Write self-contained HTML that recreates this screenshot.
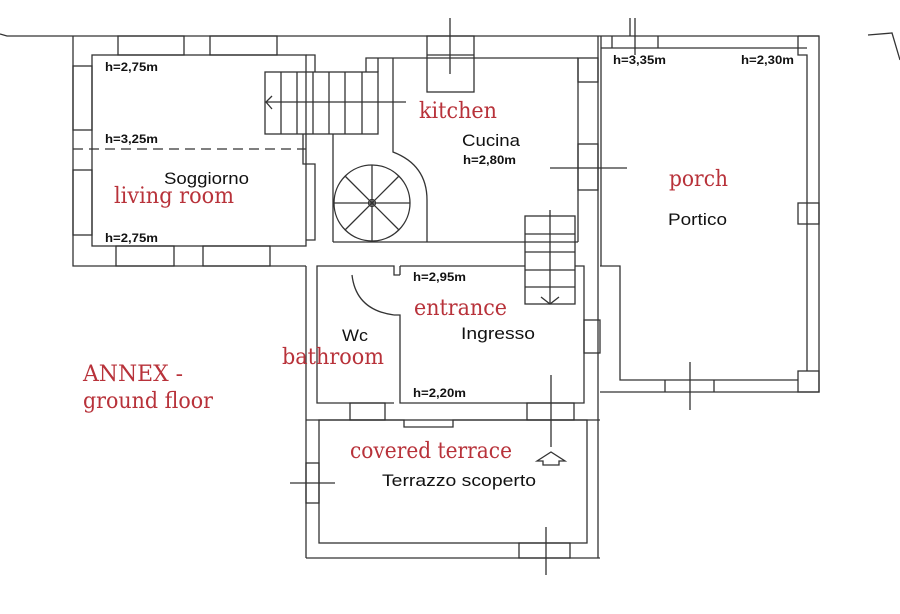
<!DOCTYPE html>
<html><head><meta charset="utf-8"><style>
html,body{margin:0;padding:0;background:#fff;width:900px;height:614px;overflow:hidden}
svg{display:block}
.b{font-family:"Liberation Sans",sans-serif;fill:#111}
.r{font-family:"DejaVu Serif","Liberation Serif",serif;fill:#b8323a}
</style></head><body>
<svg width="900" height="614" viewBox="0 0 900 614" xmlns="http://www.w3.org/2000/svg">
<g stroke="#333" stroke-width="1.3" fill="none">
<polyline points="0,34 7,36 819,36"/>
<polyline points="868,35 892,33 900,60"/>
<line x1="630" y1="18" x2="630" y2="36" />
<polyline points="73,36 73,266 306,266"/>
<rect x="92" y="55" width="214" height="191"/>
<rect x="118" y="36" width="66" height="19"/><rect x="210" y="36" width="67" height="19"/>
<rect x="73" y="66" width="19" height="64"/><rect x="73" y="170" width="19" height="65"/>
<rect x="116" y="246" width="58" height="20"/><rect x="203" y="246" width="67" height="20"/>
<line x1="73" y1="149" x2="306" y2="149" stroke-dasharray="10,6"/>
<polyline points="306,55 315,55 315,72"/>
<polyline points="303,134 303,164 315,164 315,240 306,240"/>
<rect x="265" y="72" width="113" height="62"/>
<line x1="281" y1="72" x2="281" y2="134"/><line x1="297" y1="72" x2="297" y2="134"/><line x1="313" y1="72" x2="313" y2="134"/><line x1="329" y1="72" x2="329" y2="134"/><line x1="345" y1="72" x2="345" y2="134"/><line x1="362" y1="72" x2="362" y2="134"/>
<line x1="265" y1="102" x2="406" y2="102"/>
<polyline points="272,96 266,102 272,109"/>
<polyline points="366,72 366,58 578,58"/>
<line x1="378" y1="58" x2="378" y2="72"/>
<line x1="333" y1="134" x2="333" y2="242"/>
<line x1="333" y1="242" x2="578" y2="242"/>
<path d="M393,58 L393,152 Q427,165 427,200 L427,242"/>
<circle cx="372" cy="203" r="38"/>
<circle cx="372" cy="203" r="3.5"/>
<line x1="334" y1="203" x2="410" y2="203"/><line x1="372" y1="165" x2="372" y2="241"/>
<line x1="345" y1="176" x2="399" y2="230"/><line x1="399" y1="176" x2="345" y2="230"/>
<rect x="427" y="36" width="47" height="56"/><line x1="427" y1="55" x2="474" y2="55"/>
<line x1="450" y1="18" x2="450" y2="74"/>
<line x1="578" y1="58" x2="578" y2="242"/>
<line x1="598" y1="36" x2="598" y2="558"/>
<rect x="578" y="58" width="20" height="24"/><rect x="578" y="144" width="20" height="46"/>
<line x1="550" y1="168" x2="627" y2="168"/>
<line x1="601" y1="48" x2="807" y2="48"/>
<line x1="601" y1="36" x2="601" y2="266"/>
<line x1="612" y1="36" x2="612" y2="48"/><line x1="658" y1="36" x2="658" y2="48"/>
<line x1="635" y1="18" x2="635" y2="55"/>
<polyline points="798,36 819,36 819,392 600,392"/>
<polyline points="798,36 798,55 807,55 807,371"/>
<polyline points="600,266 620,266 620,380 798,380"/>
<rect x="798" y="371" width="21" height="21"/>
<rect x="798" y="203" width="21" height="21"/>
<line x1="665" y1="380" x2="665" y2="392"/><line x1="714" y1="380" x2="714" y2="392"/>
<line x1="690" y1="362" x2="690" y2="410"/>
<rect x="525" y="216" width="50" height="88"/>
<line x1="525" y1="234" x2="575" y2="234"/><line x1="525" y1="252" x2="575" y2="252"/><line x1="525" y1="270" x2="575" y2="270"/><line x1="525" y1="287" x2="575" y2="287"/>
<line x1="550" y1="210" x2="550" y2="304"/>
<polyline points="541,297 550,304 559,297"/>
<line x1="306" y1="266" x2="306" y2="558"/>
<polyline points="394,403 317,403 317,266 394,266 394,275 400,275"/>
<path d="M352,275 Q356,310 394,315"/>
<polyline points="400,266 525,266"/>
<polyline points="394,315 400,315 400,403 584,403 584,266 575,266"/>
<line x1="400" y1="266" x2="400" y2="275"/>
<rect x="584" y="320" width="16" height="33"/>
<rect x="350" y="403" width="35" height="17"/><rect x="527" y="403" width="47" height="17"/>
<line x1="551" y1="375" x2="551" y2="447"/>
<polyline points="306,420 404,420 404,427 453,427 453,420 600,420"/>
<rect x="319" y="420" width="268" height="123"/>
<line x1="306" y1="558" x2="600" y2="558"/>
<rect x="519" y="543" width="51" height="15"/>
<line x1="546" y1="527" x2="546" y2="575"/>
<rect x="306" y="463" width="13" height="40"/>
<line x1="290" y1="483" x2="335" y2="483"/>
<path d="M537,461 L551,452 L565,461 L559,461 L559,465 L543,465 L543,461 Z"/>
</g>
<g font-size="12" class="b" font-weight="bold">
<text x="105" y="71" textLength="53" lengthAdjust="spacingAndGlyphs">h=2,75m</text>
<text x="105" y="143" textLength="53" lengthAdjust="spacingAndGlyphs">h=3,25m</text>
<text x="105" y="242" textLength="53" lengthAdjust="spacingAndGlyphs">h=2,75m</text>
<text x="613" y="64" textLength="53" lengthAdjust="spacingAndGlyphs">h=3,35m</text>
<text x="741" y="64" textLength="53" lengthAdjust="spacingAndGlyphs">h=2,30m</text>
<text x="463" y="164" textLength="53" lengthAdjust="spacingAndGlyphs">h=2,80m</text>
<text x="413" y="281" textLength="53" lengthAdjust="spacingAndGlyphs">h=2,95m</text>
<text x="413" y="397" textLength="53" lengthAdjust="spacingAndGlyphs">h=2,20m</text>
</g>
<g font-size="17" class="b">
<text x="164" y="184" textLength="85" lengthAdjust="spacingAndGlyphs">Soggiorno</text>
<text x="462" y="146" textLength="58" lengthAdjust="spacingAndGlyphs">Cucina</text>
<text x="668" y="225" textLength="59" lengthAdjust="spacingAndGlyphs">Portico</text>
<text x="342" y="341" textLength="26" lengthAdjust="spacingAndGlyphs">Wc</text>
<text x="461" y="339" textLength="74" lengthAdjust="spacingAndGlyphs">Ingresso</text>
<text x="382" y="486" textLength="154" lengthAdjust="spacingAndGlyphs">Terrazzo scoperto</text>
</g>
<g font-size="22" class="r">
<text x="114" y="203" textLength="120" lengthAdjust="spacingAndGlyphs">living room</text>
<text x="419" y="118" textLength="78" lengthAdjust="spacingAndGlyphs">kitchen</text>
<text x="669" y="186" textLength="59" lengthAdjust="spacingAndGlyphs">porch</text>
<text x="414" y="315" textLength="93" lengthAdjust="spacingAndGlyphs">entrance</text>
<text x="282" y="364" textLength="102" lengthAdjust="spacingAndGlyphs">bathroom</text>
<text x="350" y="458" textLength="162" lengthAdjust="spacingAndGlyphs">covered terrace</text>
<text x="83" y="381" textLength="100" lengthAdjust="spacingAndGlyphs">ANNEX -</text>
<text x="83" y="408" textLength="130" lengthAdjust="spacingAndGlyphs">ground floor</text>
</g>
</svg>
</body></html>
